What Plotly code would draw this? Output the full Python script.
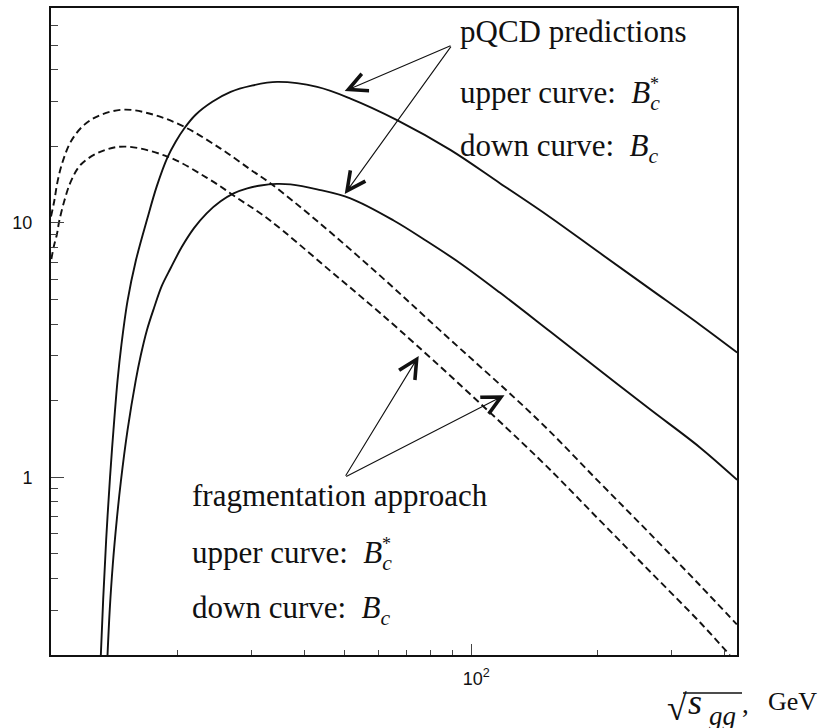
import math
import plotly.graph_objects as go

# sqrt(s_gg) in GeV and cross sections for the four curves
pqcd_bcs_x = [13.14, 13.31, 13.53, 13.82, 14.08, 14.40, 14.70, 15.21, 15.91, 16.96, 17.85, 18.92,
              19.80, 20.73, 22.09, 24.21, 26.76, 29.85, 34.54, 42.99, 51.59, 66.60, 89.17, 117.2,
              154.1, 202.5, 266.3, 350.1, 429.3]
pqcd_bcs_y = [0.20, 0.331, 0.568, 1.003, 1.531, 2.403, 3.293, 4.940, 7.083, 10.43, 13.92, 18.07,
              20.87, 23.47, 26.63, 29.94, 32.75, 34.58, 35.85, 34.27, 30.84, 25.38, 19.37, 14.30,
              10.53, 7.61, 5.503, 3.978, 3.092]

pqcd_bc_x = [13.63, 13.80, 14.03, 14.34, 14.66, 15.21, 15.91, 16.35, 16.90, 17.59, 18.35, 19.27,
             20.47, 21.89, 23.46, 25.33, 27.20, 29.32, 31.53, 34.41, 37.15, 42.99, 51.59, 65.37,
             77.6, 94.3, 117.2, 154.1, 202.5, 266.3, 350.1, 429.3]
pqcd_bc_y = [0.20, 0.303, 0.454, 0.681, 0.959, 1.531, 2.403, 3.010, 3.770, 4.638, 5.654, 6.648,
             8.035, 9.534, 10.91, 12.16, 13.07, 13.67, 14.04, 14.24, 14.17, 13.55, 12.49, 10.22,
             8.57, 6.93, 5.31, 3.74, 2.63, 1.85, 1.31, 0.976]

frag_bcs_x = [10.0, 10.18, 10.37, 10.66, 11.15, 11.99, 13.14, 14.98, 17.59, 20.73, 25.33, 29.85,
              33.31, 43.06, 60.77, 84.41, 144.3, 202.5, 266.3, 350.1, 428.5]
frag_bcs_y = [10.6, 12.2, 14.6, 17.4, 20.9, 24.3, 26.6, 27.9, 26.6, 23.9, 19.6, 16.2,
              14.3, 10.15, 6.19, 3.77, 1.68, 0.95, 0.60, 0.376, 0.264]

frag_bc_x = [10.02, 10.16, 10.33, 10.46, 10.75, 11.15, 11.78, 13.14, 14.98, 18.92, 23.56, 27.76,
             32.99, 46.24, 67.81, 144.3, 202.5, 266.3, 350.1, 412.4]
frag_bc_y = [7.21, 8.11, 9.03, 10.15, 12.16, 14.56, 16.97, 19.08, 19.96, 18.24, 15.00, 12.53,
             10.31, 6.47, 3.77, 1.19, 0.675, 0.426, 0.269, 0.2]

x_range = [10, 429]
y_range = [0.2, 70]
x_major = [100]
x_major_text = ["\u00a0\u00a010<sup>2</sup>"]
x_minor = [20, 30, 40, 50, 60, 70, 80, 90, 200, 300, 400]
y_major = [1, 10]
y_major_text = ["1", "10"]
y_minor = [0.3, 0.4, 0.5, 0.6, 0.7, 0.8, 0.9, 2, 3, 4, 5, 6, 7, 8, 9, 20, 30, 40, 50, 60]

W, H = 827, 728
L, R, T, B = 51, 737, 6, 655
INK = "#111111"
SERIF = "Liberation Serif"
SANS = "Liberation Sans"

fig = go.Figure()

for xs, ys, dash in [(pqcd_bcs_x, pqcd_bcs_y, "solid"), (pqcd_bc_x, pqcd_bc_y, "solid"),
                     (frag_bcs_x, frag_bcs_y, "7px,4px"), (frag_bc_x, frag_bc_y, "7px,4px")]:
    fig.add_trace(go.Scatter(x=xs, y=ys, mode="lines",
                             line=dict(color=INK, width=1.9, dash=dash, shape="spline", smoothing=1.0),
                             showlegend=False, hoverinfo="skip"))


def pxx(p):
    return (p - L) / (R - L)


def pxy(p):
    return (B - p) / (B - T)


def lg(v):
    return math.log10(v)


annotations = []

# arrows: (tail) -> (head), in data units
arrows = [((90, 50), (50, 33)), ((90, 50), (50, 13)),
          ((50, 1.0), (75, 3.0)), ((50, 1.0), (120, 2.1))]
for (tx, ty), (hx, hy) in arrows:
    annotations.append(dict(x=lg(hx), y=lg(hy), ax=lg(tx), ay=lg(ty), xref="x", yref="y",
                            axref="x", ayref="y", text="", showarrow=True, arrowhead=5,
                            arrowsize=3.3, arrowwidth=1.1, arrowcolor=INK))


def label(xp, yp, txt, size=31, anchor="left"):
    annotations.append(dict(x=pxx(xp), y=pxy(yp), xref="paper", yref="paper", text=txt,
                            showarrow=False, xanchor=anchor, yanchor="middle",
                            font=dict(family=SERIF, size=size, color=INK)))


SP = "\u00a0"
label(458, 30, "pQCD predictions")
label(458, 93, "upper curve:" + SP + " <i>B</i><sub><i>c</i></sub>")
label(458, 146, "down curve:" + SP + " <i>B</i><sub><i>c</i></sub>")
label(190, 495, "fragmentation approach")
label(190, 555, "upper curve:" + SP + " <i>B</i><sub><i>c</i></sub>")
label(190, 610, "down curve:" + SP + " <i>B</i><sub><i>c</i></sub>")
label(654, 82, "*", size=18, anchor="center")
label(386, 544, "*", size=18, anchor="center")

# axis title: sqrt(s_gg), GeV
label(819, 702, "GeV", size=26, anchor="right")
label(740, 704, ",", size=27)
label(686, 702, "<i>s</i>", size=36)
label(707, 716, "<i>gg</i>", size=27)
label(665, 708, "√", size=36)

fig.update_layout(
    width=W, height=H,
    margin=dict(l=L, r=W - R, t=T, b=H - B),
    paper_bgcolor="white", plot_bgcolor="white",
    annotations=annotations,
    shapes=[dict(type="line", xref="paper", yref="paper", x0=pxx(683), x1=pxx(742),
                 y0=pxy(693), y1=pxy(693), line=dict(color=INK, width=1.5))],
)

axis_common = dict(type="log", showline=True, linecolor=INK, linewidth=2, mirror=True,
                   showgrid=False, zeroline=False, ticks="inside", tickwidth=1,
                   tickcolor="#444444", tickfont=dict(family=SANS, size=18, color=INK))

fig.update_xaxes(range=[lg(x_range[0]), lg(x_range[1])], tickvals=x_major, ticktext=x_major_text,
                 ticklen=11, ticklabelstandoff=6,
                 minor=dict(tickvals=x_minor, ticks="inside", ticklen=5, tickwidth=1,
                            tickcolor="#444444", showgrid=False),
                 **axis_common)
fig.update_yaxes(range=[lg(y_range[0]), lg(y_range[1])], tickvals=y_major, ticktext=y_major_text,
                 ticklen=13, ticklabelstandoff=13,
                 minor=dict(tickvals=y_minor, ticks="inside", ticklen=7, tickwidth=1,
                            tickcolor="#444444", showgrid=False),
                 **axis_common)

fig.write_html("out.html")
